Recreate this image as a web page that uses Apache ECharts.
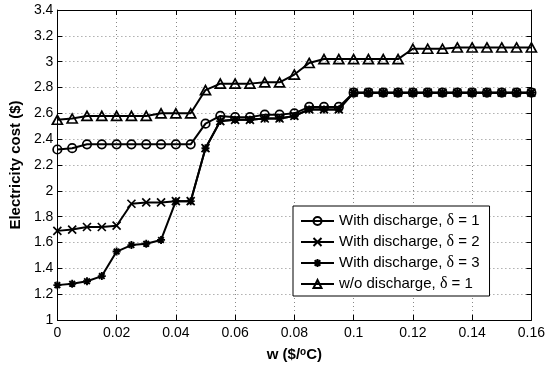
<!DOCTYPE html>
<html>
<head>
<meta charset="utf-8">
<script src="https://cdn.jsdelivr.net/npm/echarts@6/dist/echarts.min.js"></script>
<style>
  html, body { margin: 0; padding: 0; background: #fff; }
  #chart { width: 548px; height: 370px; }
</style>
</head>
<body>
<div id="chart"></div>
<script>
// ---- data ----
const wValues = [0, 0.005, 0.01, 0.015, 0.02, 0.025, 0.03, 0.035, 0.04, 0.045,
  0.05, 0.055, 0.06, 0.065, 0.07, 0.075, 0.08, 0.085, 0.09, 0.095,
  0.1, 0.105, 0.11, 0.115, 0.12, 0.125, 0.13, 0.135, 0.14, 0.145, 0.15, 0.155, 0.16];

const withDischargeD1 = [2.32, 2.33, 2.36, 2.36, 2.36, 2.36, 2.36, 2.36, 2.36, 2.36,
  2.52, 2.58, 2.57, 2.57, 2.59, 2.59, 2.60, 2.65, 2.65, 2.65,
  2.76, 2.76, 2.76, 2.76, 2.76, 2.76, 2.76, 2.76, 2.76, 2.76, 2.76, 2.76, 2.76];

const withDischargeD2 = [1.69, 1.70, 1.72, 1.72, 1.73, 1.90, 1.91, 1.91, 1.92, 1.92,
  2.33, 2.54, 2.55, 2.55, 2.56, 2.56, 2.58, 2.63, 2.63, 2.63,
  2.76, 2.76, 2.76, 2.76, 2.76, 2.76, 2.76, 2.76, 2.76, 2.76, 2.76, 2.76, 2.76];

const withDischargeD3 = [1.27, 1.28, 1.30, 1.34, 1.53, 1.58, 1.59, 1.62, 1.92, 1.92,
  2.33, 2.54, 2.55, 2.55, 2.56, 2.56, 2.58, 2.63, 2.63, 2.63,
  2.76, 2.76, 2.76, 2.76, 2.76, 2.76, 2.76, 2.76, 2.76, 2.76, 2.76, 2.76, 2.76];

const withoutDischargeD1 = [2.55, 2.56, 2.58, 2.58, 2.58, 2.58, 2.58, 2.60, 2.60, 2.60,
  2.78, 2.83, 2.83, 2.83, 2.84, 2.84, 2.90, 2.99, 3.02, 3.02,
  3.02, 3.02, 3.02, 3.02, 3.10, 3.10, 3.10, 3.11, 3.11, 3.11, 3.11, 3.11, 3.11];

const seriesNames = ['With discharge, δ = 1', 'With discharge, δ = 2', 'With discharge, δ = 3', 'w/o discharge, δ = 1'];
const xTickLabels = ['0', '0.02', '0.04', '0.06', '0.08', '0.1', '0.12', '0.14', '0.16'];
const yTickLabels = ['1', '1.2', '1.4', '1.6', '1.8', '2', '2.2', '2.4', '2.6', '2.8', '3', '3.2', '3.4'];

// ---- chart ----
const chart = echarts.init(document.getElementById('chart'), null, { renderer: 'canvas' });
const FONT = 'Liberation Sans, Arial, sans-serif';
const pairs = vals => wValues.map((w, i) => [w, vals[i]]);

const X_PATH = 'path://M0 0L10 10M10 0L0 10';
const STAR_PATH = 'path://M5 0L5 10M0 5L10 5M1.46 1.46L8.54 8.54M8.54 1.46L1.46 8.54';

function mkSeries(name, vals, symbol, size, bw) {
  return {
    name: name,
    type: 'line',
    data: pairs(vals),
    symbol: symbol,
    symbolSize: size,
    showSymbol: true,
    showAllSymbol: true,
    lineStyle: { color: '#000', width: 2 },
    itemStyle: { color: 'rgba(0,0,0,0)', borderColor: '#000', borderWidth: bw },
    emphasis: { disabled: true },
    xAxisIndex: 0,
    yAxisIndex: 0
  };
}

const option = {
  backgroundColor: '#fff',
  animation: false,
  grid: { left: 55, right: 15, top: 10, bottom: 50 },
  legend: {
    orient: 'vertical',
    left: 293,
    top: 206,
    padding: [7, 10, 4, 7],
    itemWidth: 33,
    itemHeight: 10,
    itemGap: 5,
    backgroundColor: '#fff',
    borderColor: '#000',
    borderWidth: 1,
    borderRadius: 0,
    data: seriesNames,
    formatter: n => n.replace('δ', '{d|δ}'),
    textStyle: {
      fontFamily: FONT, fontSize: 15, color: '#000', lineHeight: 16,
      rich: { d: { fontFamily: 'Liberation Serif, serif', fontSize: 16, color: '#000', lineHeight: 16 } }
    }
  },
  xAxis: [{
    type: 'value', min: 0, max: 0.16, interval: 0.02,
    name: 'w ($/{s|o}C)', nameLocation: 'middle', nameGap: 27,
    nameTextStyle: {
      fontFamily: FONT, fontSize: 15, fontWeight: 'bold', color: '#000',
      rich: { s: { fontFamily: FONT, fontSize: 10, fontWeight: 'bold', color: '#000', verticalAlign: 'top', lineHeight: 10 } }
    },
    axisLine: { show: true, onZero: false, lineStyle: { color: '#000', width: 1 } },
    axisTick: { show: true, inside: true, length: 5, lineStyle: { color: '#000' } },
    axisLabel: {
      show: true, margin: 6, color: '#000', fontFamily: FONT, fontSize: 14,
      showMinLabel: true, showMaxLabel: true,
      formatter: v => xTickLabels[Math.round(v / 0.02)]
    },
    splitLine: { show: true, lineStyle: { color: '#888', width: 1, type: [1, 3] } }
  }, {
    type: 'value', min: 0, max: 0.16, interval: 0.02, position: 'top',
    axisLine: { show: true, onZero: false, lineStyle: { color: '#000', width: 1 } },
    axisTick: { show: true, inside: true, length: 5, lineStyle: { color: '#000' } },
    axisLabel: { show: false },
    splitLine: { show: false }
  }],
  yAxis: [{
    type: 'value', min: 1, max: 3.4, interval: 0.2,
    name: 'Electricity cost ($)', nameLocation: 'middle', nameGap: 32,
    nameTextStyle: { fontFamily: FONT, fontSize: 15, fontWeight: 'bold', color: '#000' },
    axisLine: { show: true, onZero: false, lineStyle: { color: '#000', width: 1 } },
    axisTick: { show: true, inside: true, length: 5, lineStyle: { color: '#000' } },
    axisLabel: {
      show: true, margin: 4, color: '#000', fontFamily: FONT, fontSize: 14,
      showMinLabel: true, showMaxLabel: true,
      formatter: v => yTickLabels[Math.round((v - 1) / 0.2)]
    },
    splitLine: { show: true, lineStyle: { color: '#888', width: 1, type: [1, 3] } }
  }, {
    type: 'value', min: 1, max: 3.4, interval: 0.2, position: 'right',
    axisLine: { show: true, onZero: false, lineStyle: { color: '#000', width: 1 } },
    axisTick: { show: true, inside: true, length: 5, lineStyle: { color: '#000' } },
    axisLabel: { show: false },
    splitLine: { show: false }
  }],
  series: [
    mkSeries(seriesNames[0], withDischargeD1, 'circle', 8.5, 1.7),
    mkSeries(seriesNames[1], withDischargeD2, X_PATH, 8, 1.7),
    mkSeries(seriesNames[2], withDischargeD3, STAR_PATH, 8, 1.9),
    mkSeries(seriesNames[3], withoutDischargeD1, 'triangle', [10, 9], 1.7)
  ]
};
chart.setOption(option);
</script>
</body>
</html>
